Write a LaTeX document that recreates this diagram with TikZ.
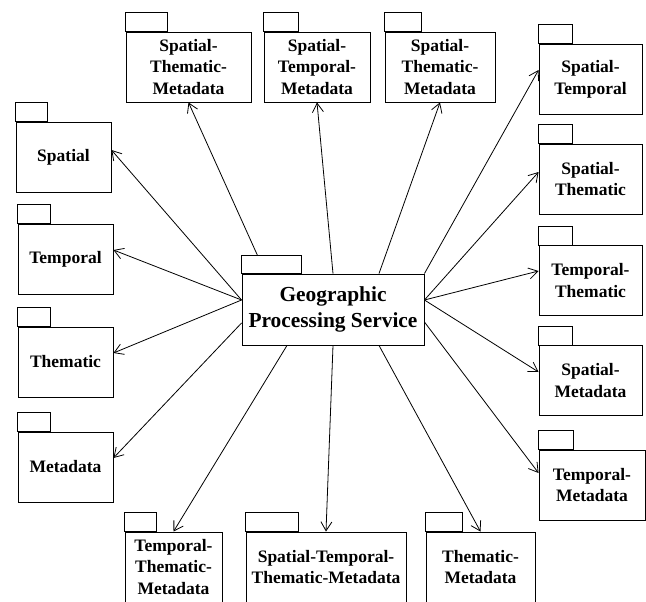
\documentclass[tikz,border=0pt]{standalone}
\usepackage{fontspec}
\setmainfont{Liberation Serif}
\usetikzlibrary{arrows.meta}

\tikzset{
  pkg/.style={draw, line width=0.9pt, rectangle, minimum height=70pt, inner sep=0pt,
    align=center, font=\fontsize{17.5}{21.7}\selectfont\bfseries},
  uses/.style={line width=0.8pt, -{Straight Barb[length=9pt,width=11pt,line width=0.8pt]}}
}

\begin{document}
\begin{tikzpicture}[x=1pt,y=-1pt]
\useasboundingbox (0,0) rectangle (646,602);

% the service
\node[pkg, minimum width=182pt, minimum height=71pt,
  font=\fontsize{21.4}{26.7}\selectfont\bfseries] (gps) at (333,309.5)
  {Geographic\\Processing Service};

% left column
\node[pkg, minimum width=95pt] (sp) at (63.5,157) {Spatial};
\node[pkg, minimum width=95pt] (tp) at (65.5,259) {Temporal};
\node[pkg, minimum width=95pt] (th) at (65.5,362) {Thematic};
\node[pkg, minimum width=95pt] (md) at (65.5,467) {Metadata};

% top row
\node[pkg, minimum width=125pt] (stm) at (188.5,67) {Spatial-\\Thematic-\\Metadata};
\node[pkg, minimum width=106pt] (stem) at (317,67) {Spatial-\\Temporal-\\Metadata};
\node[pkg, minimum width=110pt] (stm2) at (440,67) {Spatial-\\Thematic-\\Metadata};

% right column
\node[pkg, minimum width=103pt] (spt) at (590.5,79) {Spatial-\\Temporal};
\node[pkg, minimum width=103pt] (spth) at (590.5,179) {Spatial-\\Thematic};
\node[pkg, minimum width=103pt] (tpth) at (590.5,280.5) {Temporal-\\Thematic};
\node[pkg, minimum width=103pt] (spmd) at (590.5,380.5) {Spatial-\\Metadata};
\node[pkg, minimum width=106pt] (tpmd) at (592,485) {Temporal-\\Metadata};

% bottom row
\node[pkg, minimum width=97pt] (tthm) at (173.5,567) {Temporal-\\Thematic-\\Metadata};
\node[pkg, minimum width=160pt] (sttm) at (326,567) {Spatial-Temporal-\\Thematic-Metadata};
\node[pkg, minimum width=109pt] (thmd) at (480.5,567) {Thematic-\\Metadata};

% tabs
\foreach \n/\w in {sp/32, tp/33, th/33, md/33, stm/42, stem/35, stm2/37,
  spt/34, spth/34, tpth/34, spmd/34, tpmd/35, tthm/32, sttm/53, thmd/37}
  \draw[line width=0.9pt] (\n.north west) rectangle ++(\w,-19);
\draw[line width=0.9pt] (gps.north west) rectangle ++(60,-18);

% dependencies
\foreach \n/\s in {sp/7, tp/9, th/9}
  \draw[uses] ([yshift=9.5pt]gps.west) -- ([yshift=\s pt]\n.east);
\draw[uses] ([yshift=-13.5pt]gps.west) -- ([yshift=9pt]md.east);
\draw[uses] ([xshift=16pt,yshift=18pt]gps.north west) -- (stm.south);
\draw[uses] (gps.north) -- (stem.south);
\draw[uses] ([xshift=46pt]gps.north) -- (stm2.south);
\draw[uses] (gps.north east) -- ([yshift=9pt]spt.west);
\foreach \n/\s in {spth/7, tpth/9.5, spmd/8.5}
  \draw[uses] ([yshift=9.5pt]gps.east) -- ([yshift=\s pt]\n.west);
\draw[uses] ([yshift=-12.5pt]gps.east) -- ([yshift=12pt]tpmd.west);
\draw[uses] ([xshift=-46pt]gps.south) -- (tthm.north);
\draw[uses] (gps.south) -- (sttm.north);
\draw[uses] ([xshift=46pt]gps.south) -- (thmd.north);
\end{tikzpicture}
\end{document}
